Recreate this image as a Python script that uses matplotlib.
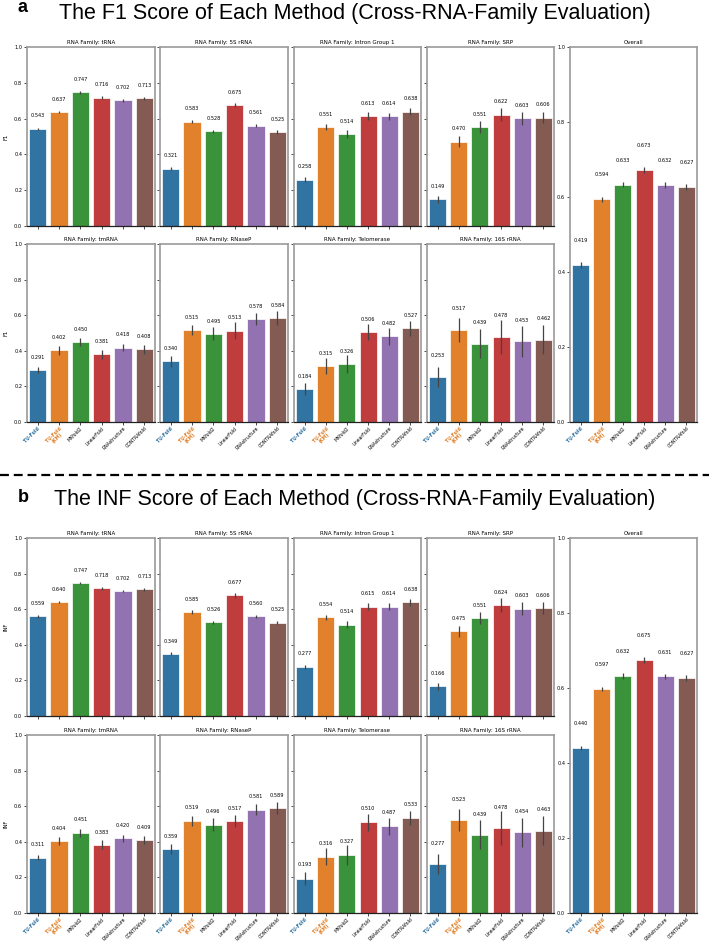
import numpy as np
import matplotlib.pyplot as plt

methods = ["TU-Fold", "TU-Fold\n(KM)", "MXfold2", "LinearFold", "RNAstructure", "CONTRAfold"]
families = ["tRNA", "5S rRNA", "Intron Group 1", "SRP",
            "tmRNA", "RNaseP", "Telomerase", "16S rRNA"]

# F1, per family (mean + error bar half length)
f1_means = [
    [0.543, 0.637, 0.747, 0.716, 0.702, 0.713],
    [0.321, 0.583, 0.528, 0.675, 0.561, 0.525],
    [0.258, 0.551, 0.514, 0.613, 0.614, 0.638],
    [0.149, 0.470, 0.551, 0.622, 0.603, 0.606],
    [0.291, 0.402, 0.450, 0.381, 0.418, 0.408],
    [0.340, 0.515, 0.495, 0.513, 0.578, 0.584],
    [0.184, 0.315, 0.326, 0.506, 0.482, 0.527],
    [0.253, 0.517, 0.439, 0.478, 0.453, 0.462],
]
f1_errs = [
    [0.006, 0.007, 0.008, 0.008, 0.007, 0.008],
    [0.008, 0.010, 0.010, 0.012, 0.010, 0.010],
    [0.013, 0.017, 0.020, 0.022, 0.020, 0.019],
    [0.020, 0.031, 0.033, 0.037, 0.036, 0.033],
    [0.016, 0.023, 0.023, 0.026, 0.021, 0.024],
    [0.030, 0.029, 0.037, 0.047, 0.035, 0.037],
    [0.033, 0.047, 0.050, 0.047, 0.047, 0.042],
    [0.056, 0.068, 0.082, 0.096, 0.087, 0.081],
]
f1_overall = [0.419, 0.594, 0.633, 0.673, 0.632, 0.627]
f1_overall_err = [0.007, 0.006, 0.007, 0.008, 0.007, 0.007]

# INF
inf_means = [
    [0.559, 0.640, 0.747, 0.718, 0.702, 0.713],
    [0.349, 0.585, 0.526, 0.677, 0.560, 0.525],
    [0.277, 0.554, 0.514, 0.615, 0.614, 0.638],
    [0.166, 0.475, 0.551, 0.624, 0.603, 0.606],
    [0.311, 0.404, 0.451, 0.383, 0.420, 0.409],
    [0.359, 0.519, 0.496, 0.517, 0.581, 0.589],
    [0.193, 0.316, 0.327, 0.510, 0.487, 0.533],
    [0.277, 0.523, 0.439, 0.478, 0.454, 0.463],
]
inf_errs = [
    [0.006, 0.007, 0.008, 0.008, 0.007, 0.008],
    [0.008, 0.010, 0.010, 0.012, 0.010, 0.010],
    [0.012, 0.016, 0.019, 0.021, 0.019, 0.018],
    [0.020, 0.031, 0.033, 0.037, 0.036, 0.033],
    [0.016, 0.023, 0.023, 0.026, 0.021, 0.024],
    [0.027, 0.028, 0.036, 0.035, 0.030, 0.032],
    [0.037, 0.047, 0.055, 0.047, 0.047, 0.040],
    [0.056, 0.064, 0.082, 0.094, 0.082, 0.080],
]
inf_overall = [0.440, 0.597, 0.632, 0.675, 0.631, 0.627]
inf_overall_err = [0.006, 0.006, 0.007, 0.008, 0.007, 0.007]

colors = ["#3274a1", "#e1812c", "#3a923a", "#c03d3e", "#9372b2", "#845b53"]
label_colors = ["#3274a1", "#e1812c", "black", "black", "black", "black"]

W, H = 709, 942
fig = plt.figure(figsize=(W / 100, H / 100), dpi=100)

def px_axes(x0, y0, x1, y1):
    return fig.add_axes([x0 / W, 1 - y1 / H, (x1 - x0) / W, (y1 - y0) / H])

def style_ax(ax):
    for s in ["top", "right", "left"]:
        ax.spines[s].set_color("#9a9a9a")
        ax.spines[s].set_linewidth(1.2)
    ax.spines["bottom"].set_color("#222222")
    ax.spines["bottom"].set_linewidth(0.9)
    ax.tick_params(labelsize=3.6, length=2, width=0.5, pad=1.5)
    ax.tick_params(axis="x", pad=0.8)

def draw(ax, vals, errs, title, show_xlabels, show_ylabels, ylabel=None):
    x = np.arange(len(methods))
    ax.bar(x, vals, width=0.8, color=colors, edgecolor="white", linewidth=0.5,
           yerr=errs, error_kw=dict(ecolor="#444444", elinewidth=0.9, capsize=0))
    off = max(0.058, max(errs) + 0.008)
    for i, v in enumerate(vals):
        ax.text(i, v + off, f"{v:.3f}", ha="center", va="bottom", fontsize=3.6)
    ax.set_xlim(-0.5, 5.5)
    ax.set_ylim(0, 1)
    ax.set_yticks([0, 0.2, 0.4, 0.6, 0.8, 1.0])
    ax.set_xticks(x)
    if title:
        ax.set_title(title, fontsize=4, pad=2)
    style_ax(ax)
    if show_xlabels:
        ax.set_xticklabels(methods, rotation=45, ha="right", rotation_mode="anchor",
                           fontsize=3.3, linespacing=0.9, multialignment="center")
        for lab, c in zip(ax.get_xticklabels(), label_colors):
            lab.set_color(c)
            if c != "black":
                lab.set_fontweight("bold")
    else:
        ax.set_xticklabels([])
    if not show_ylabels:
        ax.set_yticklabels([])
    if ylabel:
        ax.set_ylabel(ylabel, fontsize=3.8, labelpad=4)

cols = [(27, 155), (160, 288), (294, 421), (427, 554)]
overall_x = (570, 697)

def panel(letter, title, ty, ly, rows, means, errs, overall, overall_err, ylabel):
    fig.text(18 / W, 1 - ly / H, letter, fontsize=13, fontweight="bold",
             family="Liberation Sans", ha="left", va="center")
    fig.text(0.5, 1 - ty / H, title, fontsize=15.5, family="Liberation Sans",
             ha="center", va="center")
    for r, (y0, y1) in enumerate(rows):
        for c, (x0, x1) in enumerate(cols):
            k = r * 4 + c
            ax = px_axes(x0, y0, x1, y1)
            draw(ax, means[k], errs[k], f"RNA Family: {families[k]}",
                 show_xlabels=(r == 1), show_ylabels=(c == 0),
                 ylabel=ylabel if c == 0 else None)
    ax = px_axes(overall_x[0], rows[0][0], overall_x[1], rows[1][1])
    draw(ax, overall, overall_err, "Overall", show_xlabels=True, show_ylabels=True)

panel("a", "The F1 Score of Each Method (Cross-RNA-Family Evaluation)", 14, 8,
      [(47, 226), (244, 422)], f1_means, f1_errs, f1_overall, f1_overall_err, "F1")
panel("b", "The INF Score of Each Method (Cross-RNA-Family Evaluation)", 500, 497,
      [(538, 716), (735, 913)], inf_means, inf_errs, inf_overall, inf_overall_err, "INF")

# dashed separator between the two panels
fig.add_artist(plt.Line2D([0, 1], [1 - 475 / H, 1 - 475 / H], color="black",
                          linewidth=1.6, linestyle=(0, (4, 2.2))))

fig.savefig("out.png", dpi=100)
